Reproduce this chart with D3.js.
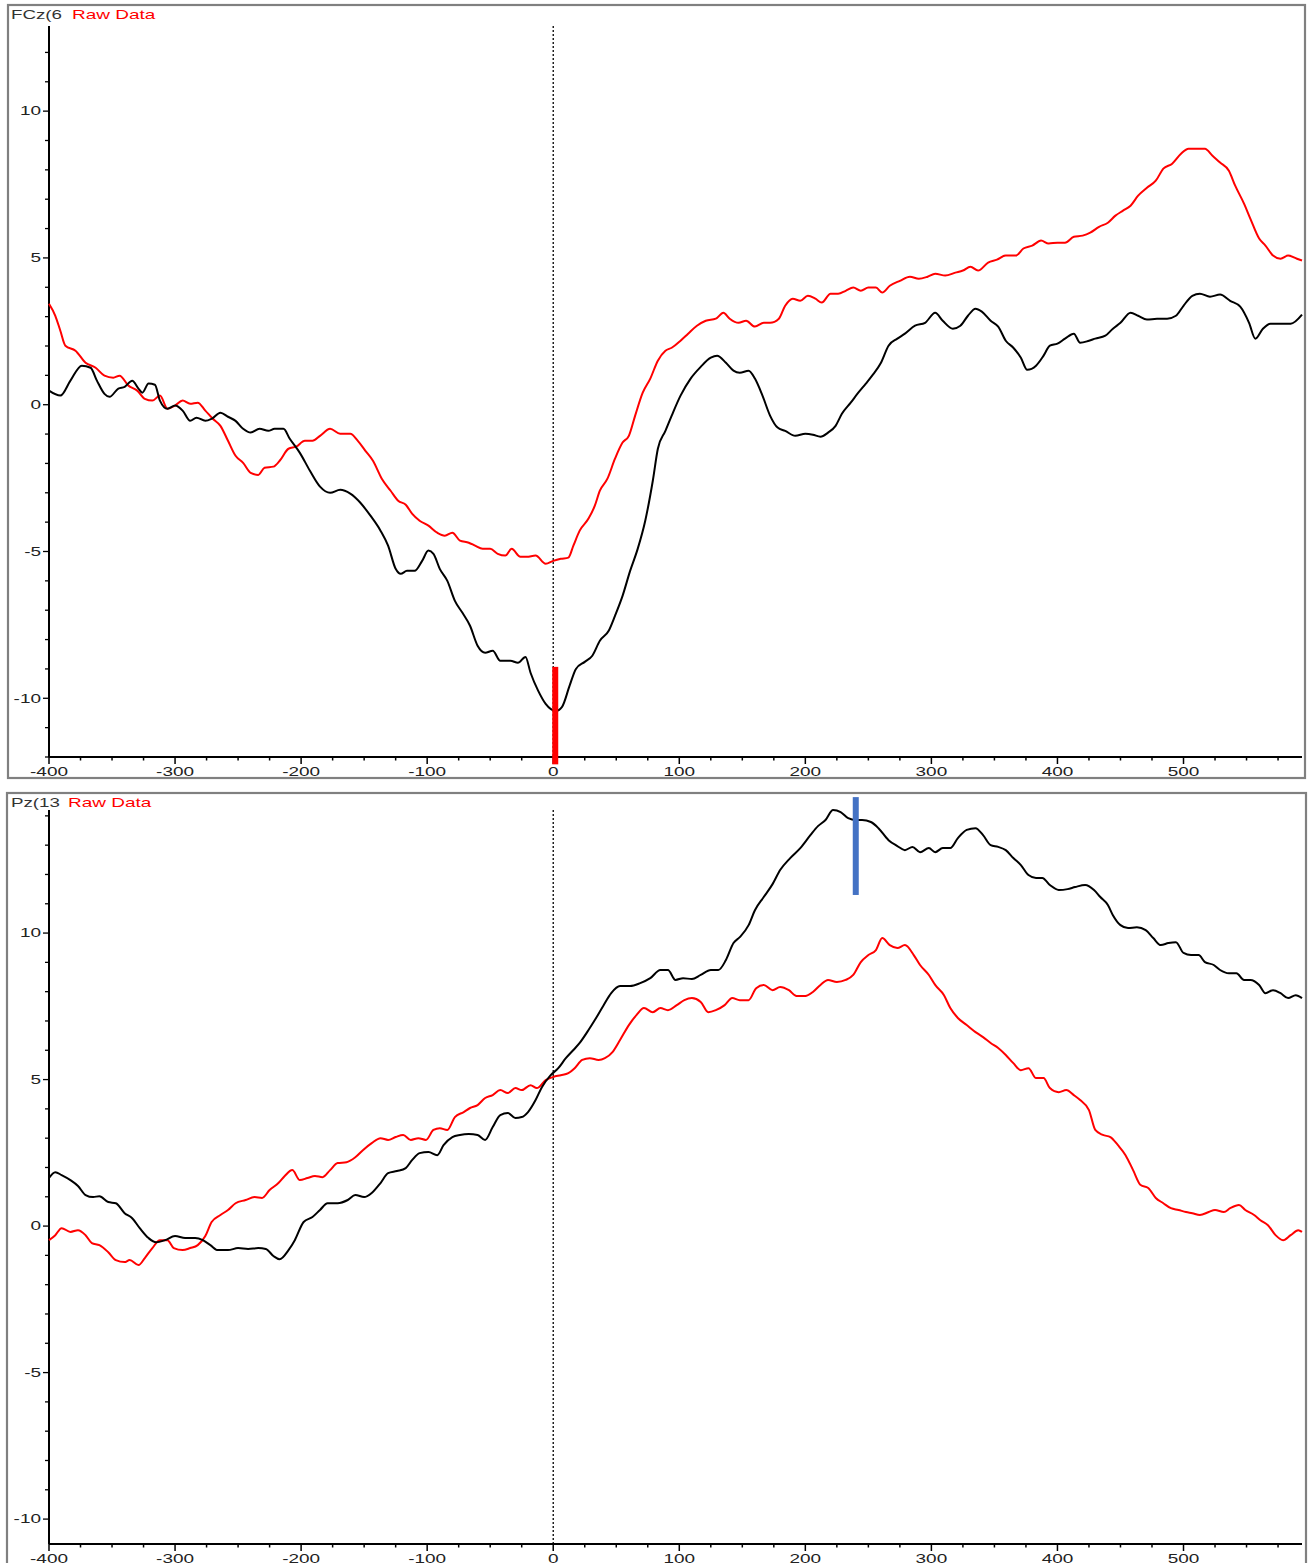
<!DOCTYPE html>
<html><head><meta charset="utf-8">
<script src="https://cdn.jsdelivr.net/npm/d3@7"></script>
<style>body{margin:0;background:#fff}svg{display:block}text{font-family:Arial,"Liberation Sans",sans-serif}</style>
</head><body><svg id="c" width="1312" height="1563"></svg>
<script>
// ---- data (time in ms, amplitude in µV) ----
const xMajorTicks = [-400,-300,-200,-100,0,100,200,300,400,500];
const yMajorTicks = [-10,-5,0,5,10];

const fczBlackT = [-400,-391,-383,-374,-367,-362,-356,-352,-345,-340,-334,-329,-326,-321,-316,-312,-306,-300,-294,-288,-283,-276,-271,-264,-258,-252,-246,-240,-233,-226,-221,-214,-209,-201,-193,-185,-177,-169,-161,-153,-145,-137,-131,-125,-121,-116,-110,-104,-99,-95,-90,-84,-78,-72,-66,-60,-54,-48,-42,-34,-28,-22,-18,-12,-6,2,7,13,18,25,31,37,44,49,55,61,67,73,79,83,89,94,101,109,117,125,130,137,143,148,155,160,166,172,178,184,192,200,206,212,218,224,229,236,242,248,253,260,266,273,279,287,295,303,309,317,323,329,335,340,347,353,359,365,371,376,383,389,394,400,406,413,418,425,430,438,444,450,458,464,471,479,487,494,500,507,513,521,529,537,545,552,557,563,569,577,585,594];
const fczBlackV = [0.48,0.31,0.82,1.33,1.26,0.82,0.37,0.27,0.55,0.61,0.82,0.55,0.41,0.72,0.68,0.14,-0.14,-0.03,-0.20,-0.55,-0.44,-0.55,-0.48,-0.27,-0.41,-0.55,-0.82,-0.95,-0.82,-0.89,-0.82,-0.82,-1.16,-1.64,-2.25,-2.79,-3.00,-2.90,-3.03,-3.34,-3.78,-4.29,-4.80,-5.59,-5.76,-5.66,-5.66,-5.32,-4.97,-5.08,-5.59,-6.00,-6.68,-7.09,-7.53,-8.21,-8.45,-8.38,-8.72,-8.72,-8.79,-8.59,-9.13,-9.74,-10.19,-10.43,-10.29,-9.57,-9.00,-8.76,-8.55,-8.04,-7.70,-7.19,-6.51,-5.66,-4.91,-3.95,-2.59,-1.50,-0.89,-0.37,0.31,0.89,1.29,1.60,1.67,1.43,1.16,1.09,1.16,0.89,0.31,-0.37,-0.78,-0.89,-1.06,-0.99,-1.02,-1.09,-0.95,-0.72,-0.31,0.07,0.41,0.72,0.99,1.43,2.01,2.25,2.42,2.69,2.79,3.13,2.86,2.59,2.69,3.03,3.27,3.17,2.86,2.66,2.18,1.94,1.60,1.19,1.33,1.67,2.01,2.08,2.25,2.42,2.11,2.18,2.25,2.35,2.59,2.79,3.13,3.03,2.90,2.93,2.93,3.03,3.37,3.71,3.78,3.68,3.75,3.54,3.34,2.79,2.25,2.59,2.76,2.76,2.76,3.07];

const fczRedT = [-400,-395,-391,-387,-379,-371,-363,-356,-349,-344,-337,-330,-324,-318,-312,-306,-300,-294,-288,-282,-276,-270,-264,-258,-252,-246,-240,-234,-229,-222,-217,-210,-204,-197,-191,-185,-177,-169,-161,-155,-149,-143,-136,-129,-123,-117,-112,-106,-99,-92,-86,-80,-74,-67,-62,-56,-50,-44,-38,-33,-26,-21,-14,-6,0,6,12,16,21,28,33,37,43,49,55,60,65,71,77,83,89,94,101,107,114,121,129,135,140,147,153,160,167,172,179,184,190,196,202,208,213,220,226,232,238,244,250,256,261,267,275,283,290,297,303,311,319,325,331,337,345,352,359,367,373,380,387,393,400,406,413,420,426,433,440,446,452,458,464,471,478,484,491,498,504,511,517,523,529,536,541,548,553,560,565,571,577,583,590,594];
const fczRedV = [3.44,3.03,2.52,2.01,1.84,1.43,1.26,0.99,0.92,0.99,0.65,0.48,0.20,0.14,0.31,-0.14,-0.03,0.14,0.03,0.07,-0.20,-0.48,-0.72,-1.23,-1.74,-1.98,-2.32,-2.39,-2.15,-2.11,-1.91,-1.50,-1.43,-1.23,-1.23,-1.06,-0.82,-0.99,-0.99,-1.23,-1.57,-1.91,-2.52,-2.93,-3.27,-3.41,-3.71,-3.95,-4.12,-4.36,-4.46,-4.36,-4.63,-4.70,-4.80,-4.91,-4.91,-5.08,-5.14,-4.91,-5.18,-5.18,-5.14,-5.42,-5.32,-5.25,-5.21,-4.80,-4.29,-3.88,-3.44,-2.93,-2.52,-1.84,-1.29,-1.06,-0.37,0.41,0.89,1.50,1.84,1.94,2.18,2.42,2.69,2.86,2.93,3.13,2.93,2.79,2.86,2.66,2.79,2.79,2.93,3.37,3.61,3.54,3.71,3.61,3.48,3.78,3.78,3.88,3.99,3.88,3.99,3.99,3.82,4.05,4.22,4.36,4.29,4.36,4.46,4.40,4.50,4.57,4.70,4.57,4.84,4.94,5.08,5.08,5.32,5.42,5.59,5.49,5.52,5.52,5.72,5.76,5.86,6.06,6.20,6.44,6.61,6.78,7.12,7.39,7.63,8.04,8.21,8.55,8.72,8.72,8.72,8.48,8.25,7.97,7.46,6.85,6.34,5.66,5.42,5.08,4.97,5.08,4.97,4.91];

const pzBlackT = [-400,-395,-390,-383,-377,-371,-365,-360,-353,-347,-340,-334,-328,-321,-315,-308,-300,-292,-284,-278,-272,-266,-258,-250,-242,-234,-228,-222,-217,-210,-205,-198,-191,-185,-179,-171,-163,-157,-150,-144,-137,-131,-124,-117,-112,-106,-99,-92,-87,-80,-74,-67,-60,-54,-48,-42,-36,-30,-25,-20,-14,-9,-2,4,10,16,21,28,33,40,46,53,61,69,77,85,91,97,103,110,117,125,131,137,143,148,155,160,167,174,180,188,196,204,210,216,222,228,234,240,245,252,258,266,273,279,285,291,298,303,309,315,321,328,335,341,347,353,359,365,371,377,383,388,394,401,408,414,422,429,434,440,444,450,456,463,470,476,482,488,494,500,506,512,517,524,529,536,542,548,553,560,565,571,577,583,589,594];
const pzBlackV = [1.64,1.84,1.74,1.57,1.37,1.06,0.99,1.02,0.82,0.78,0.44,0.27,-0.07,-0.41,-0.55,-0.48,-0.34,-0.41,-0.41,-0.48,-0.65,-0.82,-0.82,-0.75,-0.78,-0.75,-0.78,-1.02,-1.13,-0.82,-0.48,0.14,0.31,0.55,0.78,0.78,0.89,1.06,0.99,1.13,1.47,1.81,1.88,1.98,2.25,2.49,2.53,2.42,2.76,3.04,3.11,3.14,3.11,2.94,3.38,3.79,3.86,3.69,3.72,3.89,4.30,4.74,5.15,5.39,5.73,6.01,6.25,6.69,7.03,7.54,7.95,8.19,8.19,8.29,8.46,8.74,8.74,8.40,8.46,8.43,8.57,8.74,8.74,9.08,9.66,9.86,10.27,10.78,11.23,11.67,12.15,12.56,12.90,13.34,13.65,13.86,14.20,14.13,13.92,13.86,13.86,13.79,13.58,13.17,12.97,12.83,12.94,12.76,12.90,12.76,12.90,12.90,13.24,13.52,13.58,13.34,13.00,12.94,12.83,12.56,12.32,11.98,11.88,11.88,11.64,11.47,11.50,11.57,11.64,11.47,11.23,10.96,10.61,10.27,10.17,10.20,10.10,9.83,9.59,9.66,9.69,9.32,9.25,9.25,9.01,8.91,8.74,8.63,8.63,8.40,8.40,8.23,7.95,8.05,7.95,7.78,7.88,7.78];

const pzRedT = [-400,-395,-390,-383,-377,-371,-366,-360,-353,-347,-340,-336,-329,-324,-318,-312,-306,-301,-294,-288,-282,-276,-271,-264,-258,-252,-244,-237,-231,-225,-218,-213,-207,-201,-195,-189,-183,-177,-171,-164,-157,-151,-144,-137,-131,-125,-119,-113,-107,-101,-95,-90,-84,-78,-71,-66,-60,-54,-48,-42,-36,-30,-25,-18,-13,-6,0,6,12,17,23,29,36,41,47,53,60,66,72,79,85,91,98,104,110,117,123,129,136,142,148,155,161,167,174,180,187,193,200,206,212,218,225,232,238,244,250,256,261,267,273,279,286,291,298,303,310,315,321,328,335,341,347,353,359,365,371,377,383,389,394,401,407,413,418,425,430,436,442,448,454,460,466,472,478,484,490,496,502,507,513,520,525,532,537,544,549,556,561,567,573,579,585,591,594];
const pzRedV = [-0.48,-0.31,-0.07,-0.20,-0.14,-0.31,-0.58,-0.65,-0.89,-1.16,-1.23,-1.16,-1.33,-1.09,-0.75,-0.48,-0.48,-0.75,-0.82,-0.75,-0.65,-0.34,0.14,0.38,0.55,0.78,0.89,0.99,0.96,1.23,1.47,1.71,1.91,1.57,1.64,1.71,1.67,1.91,2.15,2.18,2.35,2.59,2.83,3.00,2.94,3.04,3.11,2.94,3.00,2.94,3.28,3.34,3.28,3.72,3.89,4.03,4.13,4.37,4.47,4.64,4.54,4.71,4.64,4.81,4.71,4.98,5.09,5.15,5.22,5.39,5.67,5.73,5.67,5.73,5.94,6.35,6.86,7.20,7.44,7.30,7.44,7.37,7.54,7.71,7.78,7.65,7.30,7.37,7.54,7.78,7.71,7.71,8.12,8.23,8.05,8.16,8.05,7.85,7.85,7.99,8.23,8.40,8.33,8.40,8.57,9.01,9.25,9.42,9.83,9.59,9.49,9.59,9.25,8.91,8.57,8.23,7.88,7.44,7.10,6.86,6.62,6.45,6.25,6.08,5.84,5.56,5.32,5.39,5.05,5.05,4.71,4.57,4.64,4.47,4.30,3.96,3.28,3.11,3.04,2.76,2.42,1.91,1.40,1.30,0.96,0.78,0.61,0.55,0.48,0.44,0.38,0.48,0.55,0.48,0.61,0.72,0.55,0.38,0.20,0.03,-0.31,-0.48,-0.31,-0.14,-0.20];

const panels = [
  {channel:"FCz(6", label:"Raw Data", blackT:fczBlackT, blackV:fczBlackV, redT:fczRedT, redV:fczRedV,
   marker:{t:1.6, v0:-8.93, v1:-12.25, color:"#ff0000"}},
  {channel:"Pz(13", label:"Raw Data", blackT:pzBlackT, blackV:pzBlackV, redT:pzRedT, redV:pzRedV,
   marker:{t:240, v0:14.64, v1:11.3, color:"#4472c4"}}
];

// ---- layout ----
const layouts = [
  {frame:{x:8,y:5,w:1297,h:773}, yDom:[-12.0,12.9], yRange:[757,26], titleY:19, chX:11, lbX:72},
  {frame:{x:7,y:793,w:1299,h:775}, yDom:[-10.85,14.2], yRange:[1544,810], titleY:807, chX:11, lbX:68}
];
const X0 = 49, X1 = 1302;
const svg = d3.select("#c");

function stretchedText(g, x, y, str, opt) {
  return g.append("text")
    .attr("transform", `translate(${x},${y}) scale(${opt.sx},1)`)
    .attr("text-anchor", opt.anchor || "start")
    .attr("font-size", opt.size)
    .attr("fill", opt.fill || "#222")
    .text(str);
}

panels.forEach((p, i) => {
  const L = layouts[i];
  const g = svg.append("g");
  const x = d3.scaleLinear().domain([-400, 594]).range([X0, X1]);
  const y = d3.scaleLinear().domain(L.yDom).range(L.yRange);

  // frame
  g.append("rect").attr("x", L.frame.x).attr("y", L.frame.y).attr("width", L.frame.w).attr("height", L.frame.h)
    .attr("fill", "none").attr("stroke", "#808080").attr("stroke-width", 2.2);

  // title
  stretchedText(g, L.chX, L.titleY, p.channel, {size:12.5, sx:1.5, fill:"#333"});
  stretchedText(g, L.lbX, L.titleY, p.label, {size:12.5, sx:1.52, fill:"#ff0000"});

  // x axis
  const xb = L.yRange[0];
  const minorX = d3.range(-400, 594, 25).filter(v => v % 100 !== 0);
  g.append("line").attr("x1", X0).attr("x2", X1).attr("y1", xb).attr("y2", xb).attr("stroke", "#000").attr("stroke-width", 2);
  g.selectAll(null).data(minorX).join("line")
    .attr("x1", d => x(d)).attr("x2", d => x(d)).attr("y1", xb).attr("y2", xb + 3.5)
    .attr("stroke", "#000").attr("stroke-width", 1.5);
  g.selectAll(null).data(xMajorTicks).join("line")
    .attr("x1", d => x(d)).attr("x2", d => x(d)).attr("y1", xb).attr("y2", xb + 7)
    .attr("stroke", "#000").attr("stroke-width", 1.5);
  xMajorTicks.forEach(v => stretchedText(g, x(v), xb + 18.5, String(v), {anchor:"middle", size:12, sx:1.58}));

  // y axis
  const minorY = d3.range(Math.ceil(L.yDom[0]), Math.floor(L.yDom[1]) + 1).filter(v => v % 5 !== 0);
  g.append("line").attr("x1", X0).attr("x2", X0).attr("y1", L.yRange[1]).attr("y2", xb).attr("stroke", "#000").attr("stroke-width", 2);
  g.selectAll(null).data(minorY).join("line")
    .attr("x1", X0 - 4).attr("x2", X0).attr("y1", d => y(d)).attr("y2", d => y(d))
    .attr("stroke", "#000").attr("stroke-width", 1.3);
  g.selectAll(null).data(yMajorTicks).join("line")
    .attr("x1", X0 - 6).attr("x2", X0).attr("y1", d => y(d)).attr("y2", d => y(d))
    .attr("stroke", "#000").attr("stroke-width", 1.3);
  yMajorTicks.forEach(v => stretchedText(g, X0 - 8, y(v) + 4.3, String(v), {anchor:"end", size:12, sx:1.58}));

  // zero line
  g.append("line").attr("x1", x(0)).attr("x2", x(0)).attr("y1", L.yRange[1]).attr("y2", xb)
    .attr("stroke", "#000").attr("stroke-width", 1.3).attr("stroke-dasharray", "2,2");

  // series
  const line = d3.line().x(d => x(d[0])).y(d => y(d[1])).curve(d3.curveMonotoneX);
  g.append("path").attr("d", line(d3.zip(p.redT, p.redV))).attr("fill", "none").attr("stroke", "#ff0000").attr("stroke-width", 2);
  g.append("path").attr("d", line(d3.zip(p.blackT, p.blackV))).attr("fill", "none").attr("stroke", "#000").attr("stroke-width", 2);

  // marker bar
  g.append("rect").attr("x", x(p.marker.t) - 3).attr("width", 6)
    .attr("y", y(Math.max(p.marker.v0, p.marker.v1)))
    .attr("height", Math.abs(y(p.marker.v0) - y(p.marker.v1)))
    .attr("fill", p.marker.color);
});
</script></body></html>
